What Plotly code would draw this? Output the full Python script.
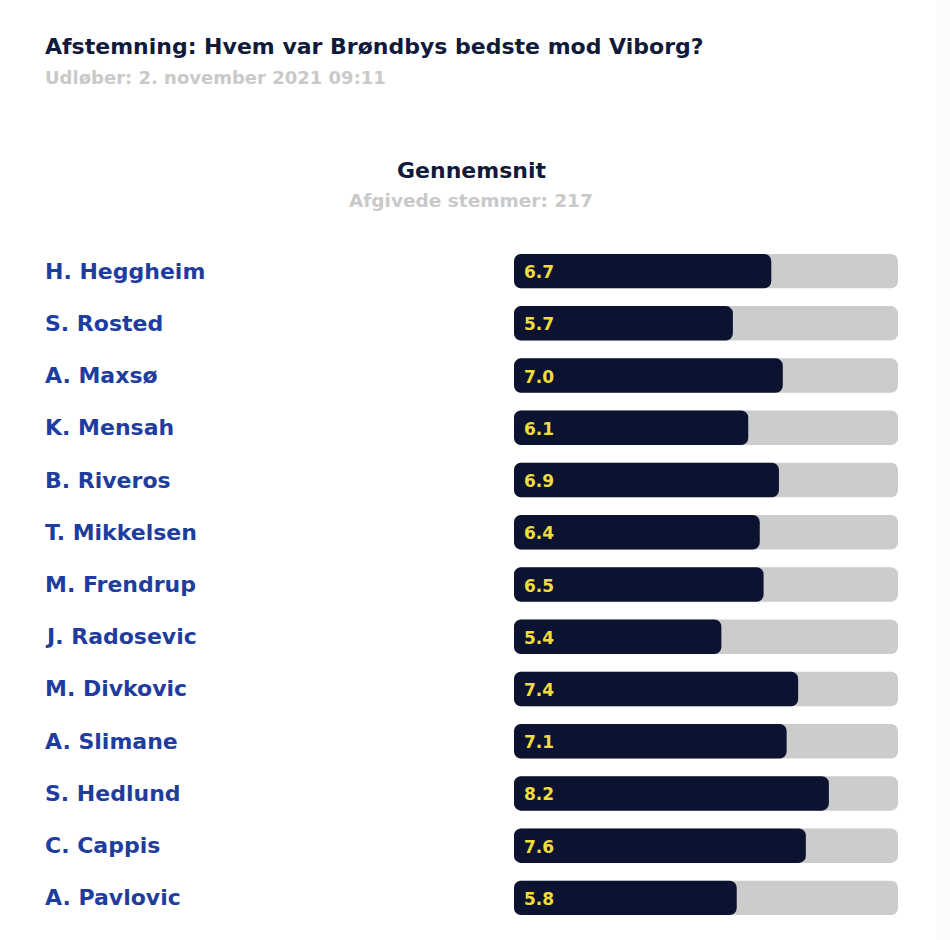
import plotly.graph_objects as go

players = ["H. Heggheim", "S. Rosted", "A. Maxsø", "K. Mensah", "B. Riveros",
           "T. Mikkelsen", "M. Frendrup", "J. Radosevic", "M. Divkovic",
           "A. Slimane", "S. Hedlund", "C. Cappis", "A. Pavlovic"]
ratings = [6.7, 5.7, 7.0, 6.1, 6.9, 6.4, 6.5, 5.4, 7.4, 7.1, 8.2, 7.6, 5.8]
max_rating = 10

W, H = 950, 940
FONT = "DejaVu Sans"
NAVY = "#0c1330"
BLUE = "#1f3d9e"
GRAY_TXT = "#c9c9c9"
YELLOW = "#f2dc3c"

fig = go.Figure()

# gray background track (rounded at right end)
fig.add_trace(go.Bar(
    y=players, x=[max_rating] * len(players), base=[0] * len(players),
    orientation="h", marker=dict(color="#cccccc", line=dict(width=0)),
    hoverinfo="skip", showlegend=False,
))
# dark value bar drawn from value back to 0 so the left end is rounded
fig.add_trace(go.Bar(
    y=players, x=[-r for r in ratings], base=ratings,
    orientation="h", marker=dict(color=NAVY, line=dict(width=0)),
    hoverinfo="skip", showlegend=False,
))

x0, x1 = 514, 898
top, bottom = 245, 16
n = len(players)

fig.update_layout(
    width=W, height=H,
    margin=dict(l=0, r=0, t=top, b=bottom),
    paper_bgcolor="white", plot_bgcolor="white",
    barmode="overlay", bargap=0.34, barcornerradius=7,
    xaxis=dict(domain=[x0 / W, x1 / W], range=[0, max_rating], visible=False,
               fixedrange=True),
    yaxis=dict(range=[n - 0.5, -0.5], visible=False, fixedrange=True),
    showlegend=False,
)

# value labels inside the bars
for p, r in zip(players, ratings):
    fig.add_annotation(
        x=0, xref="x", y=p, yref="y", text=f"{r:.1f}", showarrow=False,
        xanchor="left", yanchor="middle", xshift=8, yshift=-1,
        font=dict(family=FONT, size=17, color=YELLOW, weight="bold"),
    )

# player names at the left
for p in players:
    fig.add_annotation(
        x=43 / W, xref="paper", y=p, yref="y", text=p, showarrow=False,
        xanchor="left", yanchor="middle",
        font=dict(family=FONT, size=22, color=BLUE, weight="bold"),
    )

def ptxt(text, x, y, size, color, anchor="left"):
    fig.add_annotation(
        x=x / W, y=(H - bottom - y) / (H - top - bottom),
        xref="paper", yref="paper", text=text, showarrow=False,
        xanchor=anchor, yanchor="middle",
        font=dict(family=FONT, size=size, color=color, weight="bold"),
    )

ptxt("Afstemning: Hvem var Brøndbys bedste mod Viborg?", 43, 47, 22, "#111a3a")
ptxt("Udløber: 2. november 2021 09:11", 43, 77, 18, GRAY_TXT)
ptxt("Gennemsnit", 471, 171, 22, "#111a3a", "center")
ptxt("Afgivede stemmer: 217", 471, 200, 18.5, GRAY_TXT, "center")

fig.add_shape(type="rect", xref="paper", yref="paper",
              x0=936 / W, x1=1, y0=-bottom / (H - top - bottom),
              y1=(H - bottom) / (H - top - bottom),
              fillcolor="#fbfbfb", line=dict(width=0), layer="below")

fig.write_html("out.html")
